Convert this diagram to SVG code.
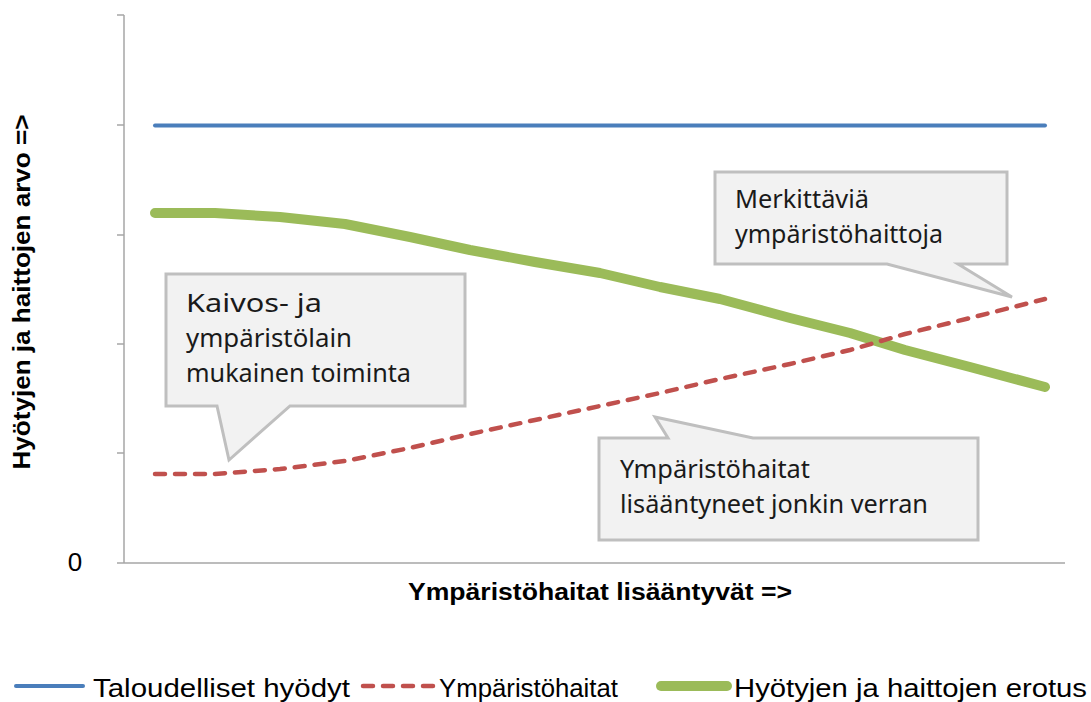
<svg xmlns="http://www.w3.org/2000/svg" width="1091" height="702" viewBox="0 0 1091 702">
<style>
.axis{stroke:#a6a6a6;stroke-width:1.5;fill:none}
.ttl{font-family:"Liberation Sans",Arial,sans-serif;font-weight:bold;font-size:23px;fill:#000}
.call{fill:#f2f2f2;stroke:#bfbfbf;stroke-width:3;stroke-linejoin:miter}
.ct{font-family:"Noto Sans","Open Sans",sans-serif;font-size:25px;fill:#1a1a1a}
.lg{font-family:"Liberation Sans",Arial,sans-serif;font-size:26px;fill:#000}
.blue{stroke:#4a7ebb;stroke-width:4;fill:none;stroke-linecap:round}
.red{stroke:#c0504d;stroke-width:4.5;fill:none;stroke-dasharray:10 10;stroke-linecap:round;stroke-linejoin:round}
.green{stroke:#9bbb59;stroke-width:10;fill:none;stroke-linecap:round;stroke-linejoin:round}
</style>
<rect width="1091" height="702" fill="#fff"/>
<g id="axes">
<path class="axis" d="M124,15 V563 M117,563 H1065 M117,15 H124 M117,125 H124 M117,235 H124 M117,344 H124 M117,453 H124"/>
<text x="75" y="571" class="lg" font-size="22" text-anchor="middle">0</text>
<text class="ttl" transform="translate(30,292) rotate(-90)" text-anchor="middle" textLength="355" lengthAdjust="spacingAndGlyphs">Hyötyjen ja haittojen arvo =&gt;</text>
<text class="ttl" x="600" y="600" text-anchor="middle" textLength="384" lengthAdjust="spacingAndGlyphs">Ympäristöhaitat lisääntyvät =&gt;</text>
</g>
<g id="connectors">
<path id="blue-line" class="blue" d="M155,125.5 H1045"/>
<polyline id="green-line" class="green" points="155,213 215,213 280,217 345,224 410,237 470,250 535,262 600,273 660,287 720,299 790,318 850,333 905,350 970,367 1045,387"/>
<polyline id="red-line" class="red" points="155,474 215,474 280,469 345,461 410,448 470,434 535,420 600,406 660,393 720,379 790,364 850,350 905,334 970,318 1045,299"/>
</g>
<g id="callout-kaivos">
<path class="call" d="M166,274 H465 V406 H290 L229,460 L217,406 H166 Z"/>
<text class="ct" x="186" y="312" textLength="136" lengthAdjust="spacingAndGlyphs">Kaivos- ja</text>
<text class="ct" x="186" y="347" textLength="166" lengthAdjust="spacingAndGlyphs">ympäristölain</text>
<text class="ct" x="186" y="382" textLength="225" lengthAdjust="spacingAndGlyphs">mukainen toiminta</text>
</g>
<g id="callout-merkittavia">
<path class="call" d="M715,172 H1007 V264 H958 L1012,297 L887,264 H715 Z"/>
<text class="ct" x="735" y="208" textLength="134" lengthAdjust="spacingAndGlyphs">Merkittäviä</text>
<text class="ct" x="735" y="243" textLength="208" lengthAdjust="spacingAndGlyphs">ympäristöhaittoja</text>
</g>
<g id="callout-lisaantyneet">
<path class="call" d="M599,438 H668 L655,417 L753,438 H978 V540 H599 Z"/>
<text class="ct" x="620" y="478" textLength="190" lengthAdjust="spacingAndGlyphs">Ympäristöhaitat</text>
<text class="ct" x="620" y="513" textLength="308" lengthAdjust="spacingAndGlyphs">lisääntyneet jonkin verran</text>
</g>
<g id="legend">
<path class="blue" d="M16,686 H83"/>
<text class="lg" x="93" y="697" textLength="257" lengthAdjust="spacingAndGlyphs">Taloudelliset hyödyt</text>
<path class="red" d="M363,686 H433"/>
<text class="lg" x="439" y="697" textLength="179" lengthAdjust="spacingAndGlyphs">Ympäristöhaitat</text>
<path class="green" d="M661,686 H727"/>
<text class="lg" x="734" y="697" textLength="353" lengthAdjust="spacingAndGlyphs">Hyötyjen ja haittojen erotus</text>
</g>
</svg>
